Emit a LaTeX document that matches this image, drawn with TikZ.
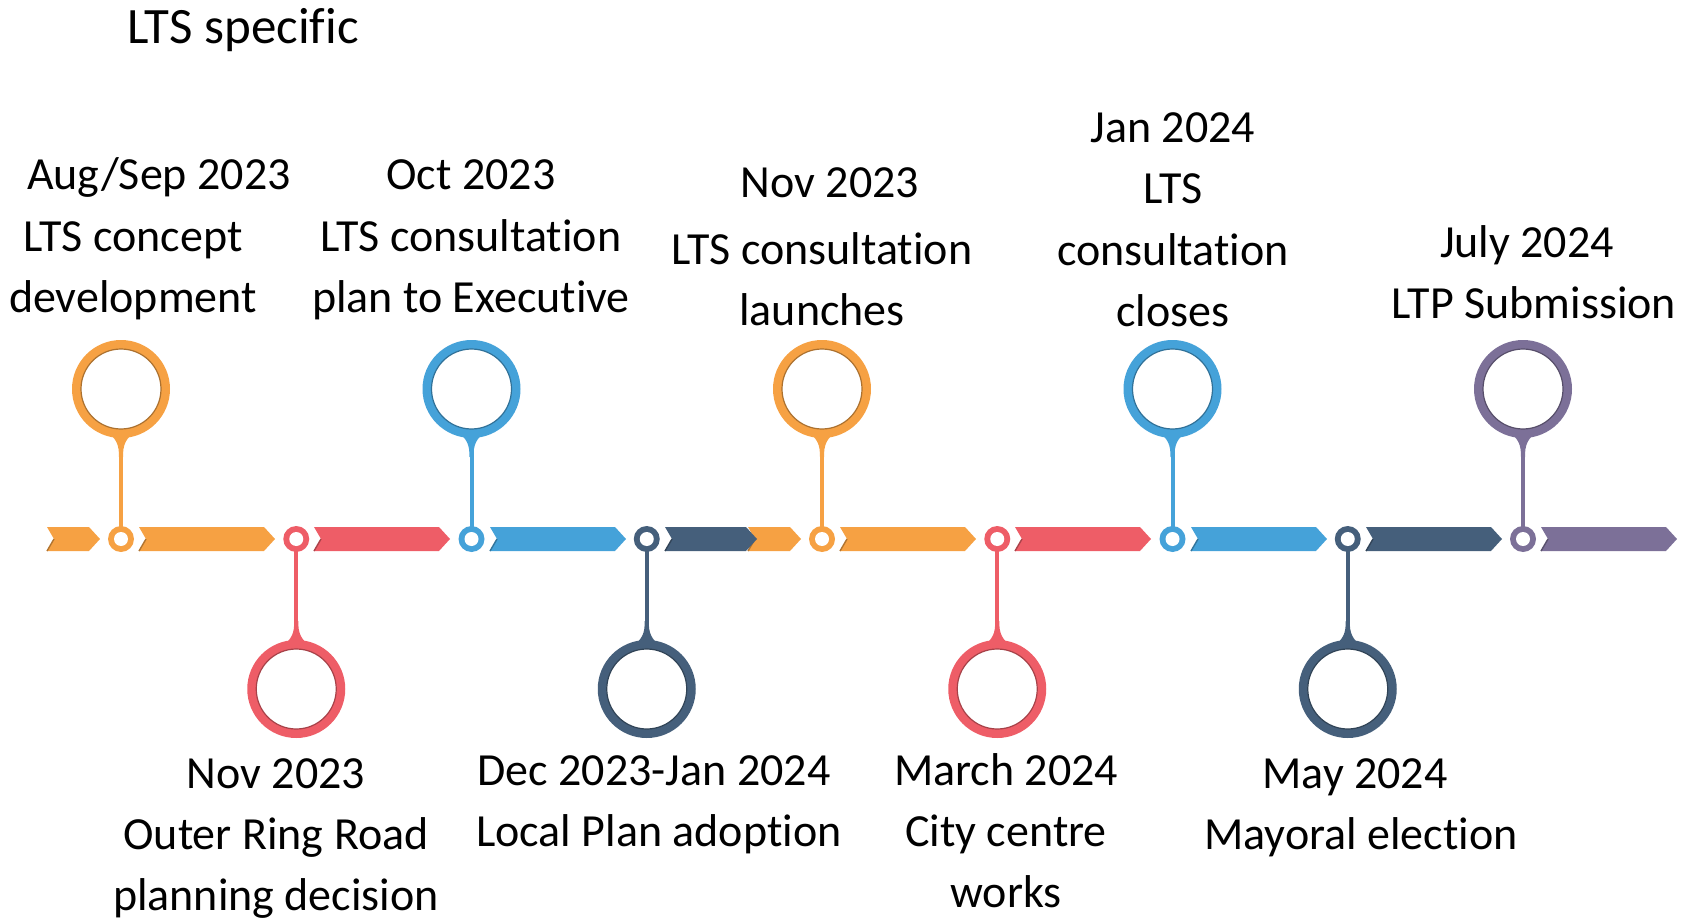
\documentclass[tikz,border=0pt]{standalone}
\usepackage{fontspec}
\setmainfont{Carlito}[Ligatures=NoCommon]
\definecolor{cOrange}{HTML}{F6A143}
\definecolor{cRed}{HTML}{EE5D67}
\definecolor{cBlue}{HTML}{45A2D9}
\definecolor{cDark}{HTML}{455F7B}
\definecolor{cPurple}{HTML}{7C7098}

% arrow band segment: start x, tip x, colour
\newcommand\bandseg[3]{%
  \fill[#3] (#1,527) -- ({#2-11},527) -- (#2,539) -- ({#2-11},551) -- (#1,551) -- ({#1+7},539) -- cycle;
  \draw[#3!72!black, line width=0.7pt] (#1,551) -- ({#1+7},539);
}
% milestone pin: name, x, colour, side (1 = above, -1 = below)
\newcommand\pin[4]{%
  \coordinate (#1) at (#2,539);
  \begin{scope}[shift={(#1)}, yscale=#4]
    \draw[#3, line width=2pt] (0,-12) -- (0,-104);
    \fill[#3] (-15,-108) .. controls (-4,-100) and (-2,-94) .. (-2,-82)
      -- (2,-82) .. controls (2,-94) and (4,-100) .. (15,-108) -- cycle;
    \fill[#3] (0,-150) circle (49);
    \fill[white] (0,-150) circle (40);
    \draw[#3!70!black, line width=0.6pt] (0,-150) circle (40);
    \fill[#3] (0,0) circle (13);
    \fill[white] (0,0) circle (7);
  \end{scope}
}

\begin{document}
\begin{tikzpicture}[x=0.5pt, y=-0.5pt,
  lbl/.style={anchor=base, inner sep=0pt, font=\fontsize{23}{28}\selectfont}]
\useasboundingbox (0,0) rectangle (1683,920);

% timeline band
\bandseg{47}{100}{cOrange}
\bandseg{139}{275}{cOrange}
\bandseg{314}{450}{cRed}
\bandseg{490}{626}{cBlue}
\bandseg{748}{801}{cOrange}
\bandseg{665}{757}{cDark}
\bandseg{840}{976}{cOrange}
\bandseg{1015}{1151}{cRed}
\bandseg{1191}{1327}{cBlue}
\bandseg{1366}{1502}{cDark}
\bandseg{1541}{1677}{cPurple}

% milestone pins
\pin{p1}{121}{cOrange}{1}
\pin{p2}{296.25}{cRed}{-1}
\pin{p3}{471.5}{cBlue}{1}
\pin{p4}{646.75}{cDark}{-1}
\pin{p5}{822}{cOrange}{1}
\pin{p6}{997.25}{cRed}{-1}
\pin{p7}{1172.5}{cBlue}{1}
\pin{p8}{1347.75}{cDark}{-1}
\pin{p9}{1523}{cPurple}{1}

% heading
\node[lbl, font=\fontsize{25.5}{30}\selectfont] (title) at (243,44) {LTS specific};

% labels above the band
\node[lbl] (a1) at (159,190) {Aug/Sep 2023};
\node[lbl] (a2) at (133,251) {LTS concept};
\node[lbl] (a3) at (133,312) {development};

\node[lbl] (b1) at (471,190) {Oct 2023};
\node[lbl] (b2) at (471,251) {LTS consultation};
\node[lbl] (b3) at (471,312) {plan to Executive};

\node[lbl] (c1) at (830,198) {Nov 2023};
\node[lbl] (c2) at (822,264) {LTS consultation};
\node[lbl] (c3) at (822,325) {launches};

\node[lbl] (d1) at (1173,143) {Jan 2024};
\node[lbl] (d2) at (1173,204) {LTS};
\node[lbl] (d3) at (1173,265) {consultation};
\node[lbl] (d4) at (1173,326) {closes};

\node[lbl] (e1) at (1527,257) {July 2024};
\node[lbl] (e2) at (1534,318) {LTP Submission};

% labels below the band
\node[lbl] (f1) at (276,788) {Nov 2023};
\node[lbl] (f2) at (276,849) {Outer Ring Road};
\node[lbl] (f3) at (276,910) {planning decision};

\node[lbl] (g1) at (654,785) {Dec 2023-Jan 2024};
\node[lbl] (g2) at (659,846) {Local Plan adoption};

\node[lbl] (h1) at (1006,785) {March 2024};
\node[lbl] (h2) at (1006,846) {City centre};
\node[lbl] (h3) at (1006,907) {works};

\node[lbl] (i1) at (1355,788) {May 2024};
\node[lbl] (i2) at (1361,849) {Mayoral election};
\end{tikzpicture}
\end{document}
